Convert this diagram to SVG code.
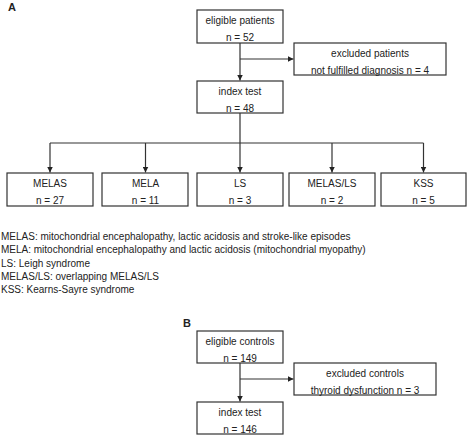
<svg xmlns="http://www.w3.org/2000/svg" width="468" height="435" viewBox="0 0 468 435">
<style>
text{font-family:"Liberation Sans",Arial,sans-serif;font-size:10px;fill:#222}
.c{text-anchor:middle}
.h{font-weight:bold;font-size:11px}
rect{fill:#fff;stroke:#333;stroke-width:1.2}
.ln{fill:none;stroke:#333;stroke-width:1.2}
</style>
<defs>
<marker id="ah" viewBox="0 0 10 10" refX="10" refY="5" markerWidth="6" markerHeight="6" markerUnits="userSpaceOnUse" orient="auto">
<path d="M0,0 L10,5 L0,10 z" fill="#222"/>
</marker>
</defs>
<rect x="0" y="0" width="468" height="435" style="fill:#fff;stroke:none"/>
<text class="h" x="8" y="11">A</text>
<text class="h" x="183" y="327">B</text>
<g id="connectors">
<path class="ln" d="M240,43 V80.5" marker-end="url(#ah)"/>
<path class="ln" d="M240,59 H293.5" marker-end="url(#ah)"/>
<path class="ln" d="M240,113 V143 M50,143 H423.5"/>
<path class="ln" d="M50,143 V172.5" marker-end="url(#ah)"/>
<path class="ln" d="M145.5,143 V172.5" marker-end="url(#ah)"/>
<path class="ln" d="M240,143 V172.5" marker-end="url(#ah)"/>
<path class="ln" d="M332,143 V172.5" marker-end="url(#ah)"/>
<path class="ln" d="M423.5,143 V172.5" marker-end="url(#ah)"/>
<path class="ln" d="M240,363 V401.5" marker-end="url(#ah)"/>
<path class="ln" d="M240,379 H293.5" marker-end="url(#ah)"/>
</g>
<g id="eligible-patients"><rect x="197" y="10" width="86" height="33"/><text class="c" x="240" y="24">eligible patients</text><text class="c" x="240" y="40.5">n = 52</text></g>
<g id="excluded-patients"><rect x="294" y="43" width="152" height="32"/><text class="c" x="370" y="57">excluded patients</text><text class="c" x="370" y="73.5">not fulfilled diagnosis n = 4</text></g>
<g id="index-test-a"><rect x="197" y="81" width="86" height="32"/><text class="c" x="240" y="95">index test</text><text class="c" x="240" y="111.5">n = 48</text></g>
<g id="melas"><rect x="7" y="173" width="86" height="33"/><text class="c" x="50" y="187">MELAS</text><text class="c" x="50" y="203.5">n = 27</text></g>
<g id="mela"><rect x="102" y="173" width="86" height="33"/><text class="c" x="145.5" y="187">MELA</text><text class="c" x="145.5" y="203.5">n = 11</text></g>
<g id="ls"><rect x="197" y="173" width="86" height="33"/><text class="c" x="240" y="187">LS</text><text class="c" x="240" y="203.5">n = 3</text></g>
<g id="melas-ls"><rect x="289" y="173" width="86" height="33"/><text class="c" x="332" y="187">MELAS/LS</text><text class="c" x="332" y="203.5">n = 2</text></g>
<g id="kss"><rect x="381" y="173" width="85" height="33"/><text class="c" x="423.5" y="187">KSS</text><text class="c" x="423.5" y="203.5">n = 5</text></g>
<g id="legend">
<text x="1" y="240">MELAS: mitochondrial encephalopathy, lactic acidosis and stroke-like episodes</text>
<text x="1" y="253.3">MELA: mitochondrial encephalopathy and lactic acidosis (mitochondrial myopathy)</text>
<text x="1" y="266.6">LS: Leigh syndrome</text>
<text x="1" y="280">MELAS/LS: overlapping MELAS/LS</text>
<text x="1" y="293.3">KSS: Kearns-Sayre syndrome</text>
</g>
<g id="eligible-controls"><rect x="197" y="331" width="86" height="32"/><text class="c" x="240" y="345">eligible controls</text><text class="c" x="240" y="361.5">n = 149</text></g>
<g id="excluded-controls"><rect x="294" y="363" width="142" height="32"/><text class="c" x="365" y="377">excluded controls</text><text class="c" x="365" y="393.5">thyroid dysfunction n = 3</text></g>
<g id="index-test-b"><rect x="197" y="402" width="86" height="32"/><text class="c" x="240" y="416">index test</text><text class="c" x="240" y="432.5">n = 146</text></g>
</svg>
